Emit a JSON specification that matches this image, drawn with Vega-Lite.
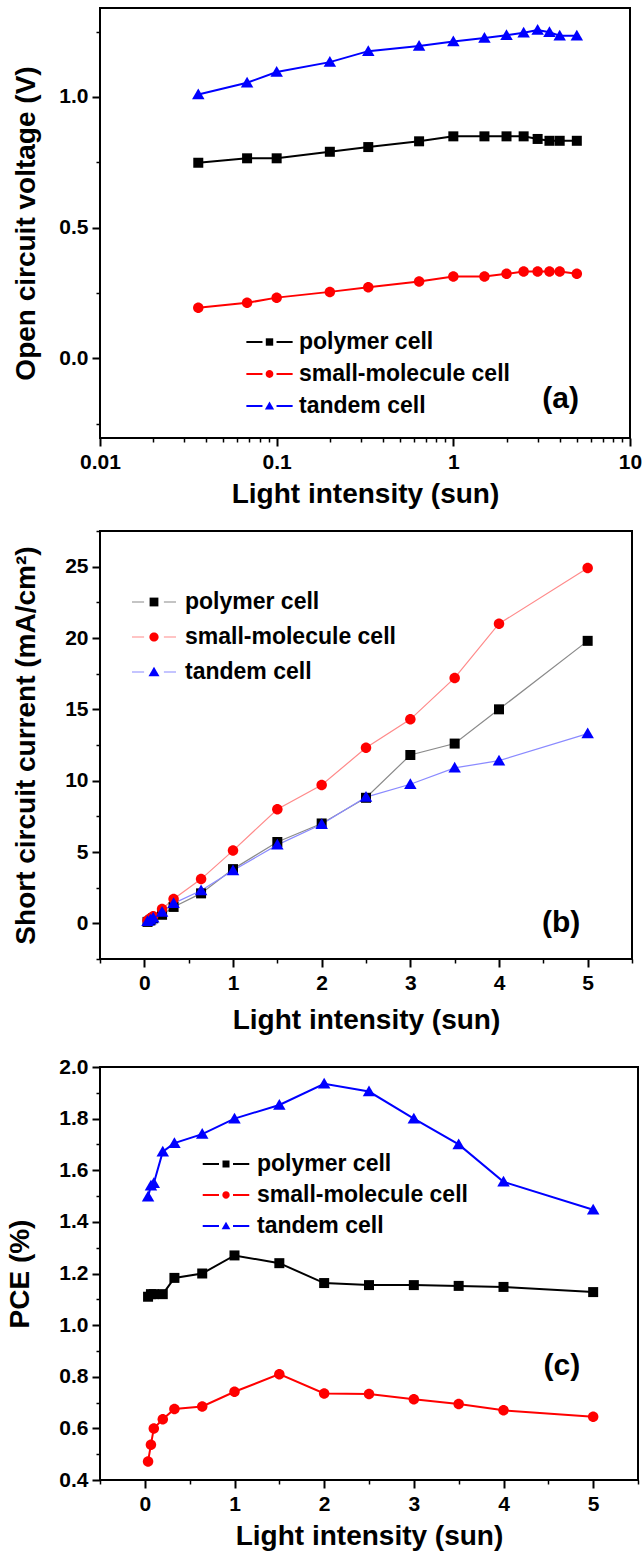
{
  "$schema": "https://vega.github.io/schema/vega-lite/v6.json",
  "background": "white",
  "padding": {"left": 5, "top": 7, "right": 2, "bottom": 0},
  "spacing": 20,
  "resolve": {
    "scale": {"stroke": "independent", "fill": "independent", "shape": "independent"},
    "legend": {"stroke": "independent", "fill": "independent", "shape": "independent"}
  },
  "config": {
    "font": "Liberation Sans",
    "view": {"stroke": "black", "strokeWidth": 2},
    "axis": {
      "domain": false, "grid": false, "labelFlush": false, "labelOverlap": false,
      "labelFont": "Liberation Sans", "labelFontSize": 21, "labelFontWeight": "bold", "labelColor": "black",
      "titleFont": "Liberation Sans", "titleFontSize": 28, "titleFontWeight": "bold", "titleColor": "black",
      "tickColor": "black"
    },
    "legend": {
      "title": null, "padding": 0, "offset": 0, "rowPadding": 0, "labelLimit": 400,
      "labelFont": "Liberation Sans", "labelFontSize": 23, "labelFontWeight": "bold", "labelColor": "black"
    }
  },
  "datasets": {
    "voc": [
      {"intensity": 0.036, "cell": "polymer cell", "value": 0.748},
      {"intensity": 0.068, "cell": "polymer cell", "value": 0.765},
      {"intensity": 0.1, "cell": "polymer cell", "value": 0.765},
      {"intensity": 0.2, "cell": "polymer cell", "value": 0.79},
      {"intensity": 0.33, "cell": "polymer cell", "value": 0.808},
      {"intensity": 0.64, "cell": "polymer cell", "value": 0.83},
      {"intensity": 1, "cell": "polymer cell", "value": 0.849},
      {"intensity": 1.5, "cell": "polymer cell", "value": 0.849},
      {"intensity": 2, "cell": "polymer cell", "value": 0.849},
      {"intensity": 2.5, "cell": "polymer cell", "value": 0.849},
      {"intensity": 3, "cell": "polymer cell", "value": 0.839},
      {"intensity": 3.5, "cell": "polymer cell", "value": 0.832},
      {"intensity": 4, "cell": "polymer cell", "value": 0.832},
      {"intensity": 5, "cell": "polymer cell", "value": 0.832},
      {"intensity": 0.036, "cell": "small-molecule cell", "value": 0.193},
      {"intensity": 0.068, "cell": "small-molecule cell", "value": 0.212},
      {"intensity": 0.1, "cell": "small-molecule cell", "value": 0.232},
      {"intensity": 0.2, "cell": "small-molecule cell", "value": 0.254},
      {"intensity": 0.33, "cell": "small-molecule cell", "value": 0.272},
      {"intensity": 0.64, "cell": "small-molecule cell", "value": 0.294},
      {"intensity": 1, "cell": "small-molecule cell", "value": 0.313},
      {"intensity": 1.5, "cell": "small-molecule cell", "value": 0.313},
      {"intensity": 2, "cell": "small-molecule cell", "value": 0.323},
      {"intensity": 2.5, "cell": "small-molecule cell", "value": 0.332},
      {"intensity": 3, "cell": "small-molecule cell", "value": 0.332},
      {"intensity": 3.5, "cell": "small-molecule cell", "value": 0.332},
      {"intensity": 4, "cell": "small-molecule cell", "value": 0.332},
      {"intensity": 5, "cell": "small-molecule cell", "value": 0.323},
      {"intensity": 0.036, "cell": "tandem cell", "value": 1.009},
      {"intensity": 0.068, "cell": "tandem cell", "value": 1.054},
      {"intensity": 0.1, "cell": "tandem cell", "value": 1.095},
      {"intensity": 0.2, "cell": "tandem cell", "value": 1.133},
      {"intensity": 0.33, "cell": "tandem cell", "value": 1.175},
      {"intensity": 0.64, "cell": "tandem cell", "value": 1.195},
      {"intensity": 1, "cell": "tandem cell", "value": 1.212},
      {"intensity": 1.5, "cell": "tandem cell", "value": 1.225},
      {"intensity": 2, "cell": "tandem cell", "value": 1.236},
      {"intensity": 2.5, "cell": "tandem cell", "value": 1.245},
      {"intensity": 3, "cell": "tandem cell", "value": 1.256},
      {"intensity": 3.5, "cell": "tandem cell", "value": 1.247},
      {"intensity": 4, "cell": "tandem cell", "value": 1.234},
      {"intensity": 5, "cell": "tandem cell", "value": 1.234}
    ],
    "jsc": [
      {"intensity": 0.036, "cell": "polymer cell", "value": 0.1},
      {"intensity": 0.068, "cell": "polymer cell", "value": 0.2},
      {"intensity": 0.1, "cell": "polymer cell", "value": 0.35},
      {"intensity": 0.2, "cell": "polymer cell", "value": 0.6},
      {"intensity": 0.33, "cell": "polymer cell", "value": 1.15},
      {"intensity": 0.64, "cell": "polymer cell", "value": 2.1},
      {"intensity": 1, "cell": "polymer cell", "value": 3.8},
      {"intensity": 1.5, "cell": "polymer cell", "value": 5.7},
      {"intensity": 2, "cell": "polymer cell", "value": 7.0},
      {"intensity": 2.5, "cell": "polymer cell", "value": 8.8},
      {"intensity": 3, "cell": "polymer cell", "value": 11.8},
      {"intensity": 3.5, "cell": "polymer cell", "value": 12.6},
      {"intensity": 4, "cell": "polymer cell", "value": 15.0},
      {"intensity": 5, "cell": "polymer cell", "value": 19.8},
      {"intensity": 0.036, "cell": "small-molecule cell", "value": 0.2},
      {"intensity": 0.068, "cell": "small-molecule cell", "value": 0.35},
      {"intensity": 0.1, "cell": "small-molecule cell", "value": 0.5},
      {"intensity": 0.2, "cell": "small-molecule cell", "value": 1.0},
      {"intensity": 0.33, "cell": "small-molecule cell", "value": 1.7},
      {"intensity": 0.64, "cell": "small-molecule cell", "value": 3.1},
      {"intensity": 1, "cell": "small-molecule cell", "value": 5.1},
      {"intensity": 1.5, "cell": "small-molecule cell", "value": 8.0},
      {"intensity": 2, "cell": "small-molecule cell", "value": 9.7},
      {"intensity": 2.5, "cell": "small-molecule cell", "value": 12.3},
      {"intensity": 3, "cell": "small-molecule cell", "value": 14.3},
      {"intensity": 3.5, "cell": "small-molecule cell", "value": 17.2},
      {"intensity": 4, "cell": "small-molecule cell", "value": 21.0},
      {"intensity": 5, "cell": "small-molecule cell", "value": 24.9},
      {"intensity": 0.036, "cell": "tandem cell", "value": 0.15},
      {"intensity": 0.068, "cell": "tandem cell", "value": 0.25},
      {"intensity": 0.1, "cell": "tandem cell", "value": 0.4},
      {"intensity": 0.2, "cell": "tandem cell", "value": 0.8},
      {"intensity": 0.33, "cell": "tandem cell", "value": 1.4},
      {"intensity": 0.64, "cell": "tandem cell", "value": 2.3},
      {"intensity": 1, "cell": "tandem cell", "value": 3.7},
      {"intensity": 1.5, "cell": "tandem cell", "value": 5.5},
      {"intensity": 2, "cell": "tandem cell", "value": 6.95},
      {"intensity": 2.5, "cell": "tandem cell", "value": 8.85},
      {"intensity": 3, "cell": "tandem cell", "value": 9.75},
      {"intensity": 3.5, "cell": "tandem cell", "value": 10.9},
      {"intensity": 4, "cell": "tandem cell", "value": 11.4},
      {"intensity": 5, "cell": "tandem cell", "value": 13.3}
    ],
    "pce": [
      {"intensity": 0.036, "cell": "polymer cell", "value": 1.11},
      {"intensity": 0.068, "cell": "polymer cell", "value": 1.12},
      {"intensity": 0.1, "cell": "polymer cell", "value": 1.12},
      {"intensity": 0.2, "cell": "polymer cell", "value": 1.12},
      {"intensity": 0.33, "cell": "polymer cell", "value": 1.183},
      {"intensity": 0.64, "cell": "polymer cell", "value": 1.2},
      {"intensity": 1, "cell": "polymer cell", "value": 1.27},
      {"intensity": 1.5, "cell": "polymer cell", "value": 1.24},
      {"intensity": 2, "cell": "polymer cell", "value": 1.163},
      {"intensity": 2.5, "cell": "polymer cell", "value": 1.155},
      {"intensity": 3, "cell": "polymer cell", "value": 1.155},
      {"intensity": 3.5, "cell": "polymer cell", "value": 1.152},
      {"intensity": 4, "cell": "polymer cell", "value": 1.148},
      {"intensity": 5, "cell": "polymer cell", "value": 1.128},
      {"intensity": 0.036, "cell": "small-molecule cell", "value": 0.472},
      {"intensity": 0.068, "cell": "small-molecule cell", "value": 0.537},
      {"intensity": 0.1, "cell": "small-molecule cell", "value": 0.6},
      {"intensity": 0.2, "cell": "small-molecule cell", "value": 0.635},
      {"intensity": 0.33, "cell": "small-molecule cell", "value": 0.675},
      {"intensity": 0.64, "cell": "small-molecule cell", "value": 0.685},
      {"intensity": 1, "cell": "small-molecule cell", "value": 0.742},
      {"intensity": 1.5, "cell": "small-molecule cell", "value": 0.81},
      {"intensity": 2, "cell": "small-molecule cell", "value": 0.735},
      {"intensity": 2.5, "cell": "small-molecule cell", "value": 0.733},
      {"intensity": 3, "cell": "small-molecule cell", "value": 0.713},
      {"intensity": 3.5, "cell": "small-molecule cell", "value": 0.694},
      {"intensity": 4, "cell": "small-molecule cell", "value": 0.67},
      {"intensity": 5, "cell": "small-molecule cell", "value": 0.645},
      {"intensity": 0.036, "cell": "tandem cell", "value": 1.497},
      {"intensity": 0.068, "cell": "tandem cell", "value": 1.54},
      {"intensity": 0.1, "cell": "tandem cell", "value": 1.55},
      {"intensity": 0.2, "cell": "tandem cell", "value": 1.672},
      {"intensity": 0.33, "cell": "tandem cell", "value": 1.705},
      {"intensity": 0.64, "cell": "tandem cell", "value": 1.74},
      {"intensity": 1, "cell": "tandem cell", "value": 1.8},
      {"intensity": 1.5, "cell": "tandem cell", "value": 1.853},
      {"intensity": 2, "cell": "tandem cell", "value": 1.935},
      {"intensity": 2.5, "cell": "tandem cell", "value": 1.905},
      {"intensity": 3, "cell": "tandem cell", "value": 1.8},
      {"intensity": 3.5, "cell": "tandem cell", "value": 1.7},
      {"intensity": 4, "cell": "tandem cell", "value": 1.555},
      {"intensity": 5, "cell": "tandem cell", "value": 1.447}
    ]
  },
  "vconcat": [
    {
      "width": 530, "height": 430,
      "data": {"name": "voc"},
      "resolve": {"axis": {"x": "independent", "y": "independent"}},
      "layer": [
        {
          "mark": {"type": "line", "strokeWidth": 2},
          "encoding": {
            "x": {"field": "intensity", "type": "quantitative",
              "scale": {"type": "log", "domain": [0.01, 10], "nice": false},
              "axis": {"orient": "bottom", "offset": 0, "title": null, "labels": false, "tickSize": 4, "tickWidth": 1.5,
                "values": [0.02, 0.03, 0.04, 0.05, 0.06, 0.07, 0.08, 0.09, 0.2, 0.3, 0.4, 0.5, 0.6, 0.7, 0.8, 0.9, 2, 3, 4, 5, 6, 7, 8, 9]}},
            "y": {"field": "value", "type": "quantitative",
              "scale": {"domain": [-0.305, 1.34], "nice": false, "zero": false},
              "axis": {"orient": "left", "offset": 0, "title": null, "labels": false, "tickSize": 4, "tickWidth": 1.5,
                "values": [-0.25, 0.25, 0.75, 1.25]}},
            "stroke": {"field": "cell", "type": "nominal",
              "scale": {"range": ["black", "red", "blue"]},
              "legend": {"orient": "none", "legendX": 150, "legendY": 314.5, "labelOffset": 10, "symbolSize": 1369,
                "symbolStrokeWidth": 2, "symbolType": "M-1.25,0H-0.38M0.38,0H1.25"}}
          }
        },
        {
          "mark": {"type": "point", "filled": true, "opacity": 1, "size": 2500},
          "encoding": {
            "x": {"field": "intensity", "type": "quantitative",
              "scale": {"type": "log", "domain": [0.01, 10], "nice": false},
              "axis": {"orient": "bottom", "offset": 0, "title": "Light intensity (sun)", "format": "~g",
                "values": [0.01, 0.1, 1, 10], "tickSize": 8, "tickWidth": 2, "labelPadding": 5, "titlePadding": 8}},
            "y": {"field": "value", "type": "quantitative",
              "scale": {"domain": [-0.305, 1.34], "nice": false, "zero": false},
              "axis": {"orient": "left", "offset": 0, "title": "Open circuit voltage (V)", "format": ".1f",
                "values": [0, 0.5, 1], "tickSize": 8, "tickWidth": 2, "labelPadding": 4, "titlePadding": 18}},
            "fill": {"field": "cell", "type": "nominal",
              "scale": {"domain": ["polymer cell", "small-molecule cell", "tandem cell"], "range": ["black", "red", "blue"]},
              "legend": {"orient": "none", "legendX": 150, "legendY": 314.5, "labelOffset": 10, "symbolSize": 1369, "labelOpacity": 0}},
            "shape": {"field": "cell", "type": "nominal",
              "scale": {"domain": ["polymer cell", "small-molecule cell", "tandem cell"],
                "range": ["M-0.2,-0.2H0.2V0.2H-0.2Z",
                  "M0.21,0A0.21,0.21,0,1,1,-0.21,0A0.21,0.21,0,1,1,0.21,0Z",
                  "M0,-0.24L0.25,0.19L-0.25,0.19Z"]},
              "legend": {"orient": "none", "legendX": 150, "legendY": 314.5, "labelOffset": 10, "symbolSize": 1369, "labelOpacity": 0}}
          }
        },
        {
          "data": {"values": [{"x": 4.05, "y": -0.155, "tag": "(a)"}]},
          "mark": {"type": "text", "font": "Liberation Sans", "fontSize": 30, "fontWeight": "bold", "color": "black"},
          "encoding": {
            "x": {"field": "x", "type": "quantitative", "axis": null},
            "y": {"field": "y", "type": "quantitative", "axis": null},
            "text": {"field": "tag"}
          }
        }
      ]
    },
    {
      "width": 532, "height": 428,
      "data": {"name": "jsc"},
      "resolve": {"axis": {"x": "independent", "y": "independent"}},
      "layer": [
        {
          "mark": {"type": "line", "strokeWidth": 1.2},
          "encoding": {
            "x": {"field": "intensity", "type": "quantitative",
              "scale": {"domain": [-0.5, 5.5], "nice": false, "zero": false},
              "axis": {"orient": "bottom", "offset": 0, "title": null, "labels": false, "tickSize": 4, "tickWidth": 1.5,
                "values": [-0.5, 0.5, 1.5, 2.5, 3.5, 4.5, 5.5]}},
            "y": {"field": "value", "type": "quantitative",
              "scale": {"domain": [-2.5, 27.5], "nice": false, "zero": false},
              "axis": {"orient": "left", "offset": 0, "title": null, "labels": false, "tickSize": 4, "tickWidth": 1.5,
                "values": [-2.5, 2.5, 7.5, 12.5, 17.5, 22.5, 27.5]}},
            "stroke": {"field": "cell", "type": "nominal",
              "scale": {"range": ["#8a8a8a", "#ff8a8a", "#8a8aff"]},
              "legend": {"orient": "none", "legendX": 31, "legendY": 48, "labelOffset": 8, "symbolSize": 1936,
                "symbolStrokeWidth": 1.2, "symbolType": "M-1,0H-0.45M0.45,0H1"}}
          }
        },
        {
          "mark": {"type": "point", "filled": true, "opacity": 1, "size": 2500},
          "encoding": {
            "x": {"field": "intensity", "type": "quantitative",
              "scale": {"domain": [-0.5, 5.5], "nice": false, "zero": false},
              "axis": {"orient": "bottom", "offset": 0, "title": "Light intensity (sun)", "format": "d",
                "values": [0, 1, 2, 3, 4, 5], "tickSize": 8, "tickWidth": 2, "labelPadding": 5, "titlePadding": 13}},
            "y": {"field": "value", "type": "quantitative",
              "scale": {"domain": [-2.5, 27.5], "nice": false, "zero": false},
              "axis": {"orient": "left", "offset": 0, "title": "Short circuit current (mA/cm²)", "format": "d",
                "values": [0, 5, 10, 15, 20, 25], "tickSize": 8, "tickWidth": 2, "labelPadding": 4, "titlePadding": 24}},
            "fill": {"field": "cell", "type": "nominal",
              "scale": {"domain": ["polymer cell", "small-molecule cell", "tandem cell"], "range": ["black", "red", "blue"]},
              "legend": {"orient": "none", "legendX": 31, "legendY": 48, "labelOffset": 8, "symbolSize": 1936, "labelOpacity": 0}},
            "shape": {"field": "cell", "type": "nominal",
              "scale": {"domain": ["polymer cell", "small-molecule cell", "tandem cell"],
                "range": ["M-0.2,-0.2H0.2V0.2H-0.2Z",
                  "M0.21,0A0.21,0.21,0,1,1,-0.21,0A0.21,0.21,0,1,1,0.21,0Z",
                  "M0,-0.24L0.25,0.19L-0.25,0.19Z"]},
              "legend": {"orient": "none", "legendX": 31, "legendY": 48, "labelOffset": 8, "symbolSize": 1936, "labelOpacity": 0}}
          }
        },
        {
          "data": {"values": [{"x": 4.7, "y": 0, "tag": "(b)"}]},
          "mark": {"type": "text", "font": "Liberation Sans", "fontSize": 30, "fontWeight": "bold", "color": "black"},
          "encoding": {
            "x": {"field": "x", "type": "quantitative", "axis": null},
            "y": {"field": "y", "type": "quantitative", "axis": null},
            "text": {"field": "tag"}
          }
        }
      ]
    },
    {
      "width": 538, "height": 413,
      "data": {"name": "pce"},
      "resolve": {"axis": {"x": "independent", "y": "independent"}},
      "layer": [
        {
          "mark": {"type": "line", "strokeWidth": 2},
          "encoding": {
            "x": {"field": "intensity", "type": "quantitative",
              "scale": {"domain": [-0.5, 5.5], "nice": false, "zero": false},
              "axis": {"orient": "bottom", "offset": 0, "title": null, "labels": false, "tickSize": 4, "tickWidth": 1.5,
                "values": [-0.5, 0.5, 1.5, 2.5, 3.5, 4.5, 5.5]}},
            "y": {"field": "value", "type": "quantitative",
              "scale": {"domain": [0.4, 2.0], "nice": false, "zero": false},
              "axis": {"orient": "left", "offset": 0, "title": null, "labels": false, "tickSize": 4, "tickWidth": 1.5,
                "values": [0.5, 0.7, 0.9, 1.1, 1.3, 1.5, 1.7, 1.9]}},
            "stroke": {"field": "cell", "type": "nominal",
              "scale": {"range": ["black", "red", "blue"]},
              "legend": {"orient": "none", "legendX": 107.5, "legendY": 78.5, "labelOffset": 12.5, "symbolSize": 1225,
                "symbolStrokeWidth": 2, "symbolType": "M-1.33,0H-0.4M0.4,0H1.33"}}
          }
        },
        {
          "mark": {"type": "point", "filled": true, "opacity": 1, "size": 2500},
          "encoding": {
            "x": {"field": "intensity", "type": "quantitative",
              "scale": {"domain": [-0.5, 5.5], "nice": false, "zero": false},
              "axis": {"orient": "bottom", "offset": 0, "title": "Light intensity (sun)", "format": "d",
                "values": [0, 1, 2, 3, 4, 5], "tickSize": 8, "tickWidth": 2, "labelPadding": 5, "titlePadding": 8}},
            "y": {"field": "value", "type": "quantitative",
              "scale": {"domain": [0.4, 2.0], "nice": false, "zero": false},
              "axis": {"orient": "left", "offset": 0, "title": "PCE (%)", "format": ".1f",
                "values": [0.4, 0.6, 0.8, 1.0, 1.2, 1.4, 1.6, 1.8, 2.0], "tickSize": 8, "tickWidth": 2, "labelPadding": 4, "titlePadding": 24}},
            "fill": {"field": "cell", "type": "nominal",
              "scale": {"domain": ["polymer cell", "small-molecule cell", "tandem cell"], "range": ["black", "red", "blue"]},
              "legend": {"orient": "none", "legendX": 107.5, "legendY": 78.5, "labelOffset": 12.5, "symbolSize": 1225, "labelOpacity": 0}},
            "shape": {"field": "cell", "type": "nominal",
              "scale": {"domain": ["polymer cell", "small-molecule cell", "tandem cell"],
                "range": ["M-0.2,-0.2H0.2V0.2H-0.2Z",
                  "M0.21,0A0.21,0.21,0,1,1,-0.21,0A0.21,0.21,0,1,1,0.21,0Z",
                  "M0,-0.24L0.25,0.19L-0.25,0.19Z"]},
              "legend": {"orient": "none", "legendX": 107.5, "legendY": 78.5, "labelOffset": 12.5, "symbolSize": 1225, "labelOpacity": 0}}
          }
        },
        {
          "data": {"values": [{"x": 4.65, "y": 0.84, "tag": "(c)"}]},
          "mark": {"type": "text", "font": "Liberation Sans", "fontSize": 30, "fontWeight": "bold", "color": "black"},
          "encoding": {
            "x": {"field": "x", "type": "quantitative", "axis": null},
            "y": {"field": "y", "type": "quantitative", "axis": null},
            "text": {"field": "tag"}
          }
        }
      ]
    }
  ]
}
